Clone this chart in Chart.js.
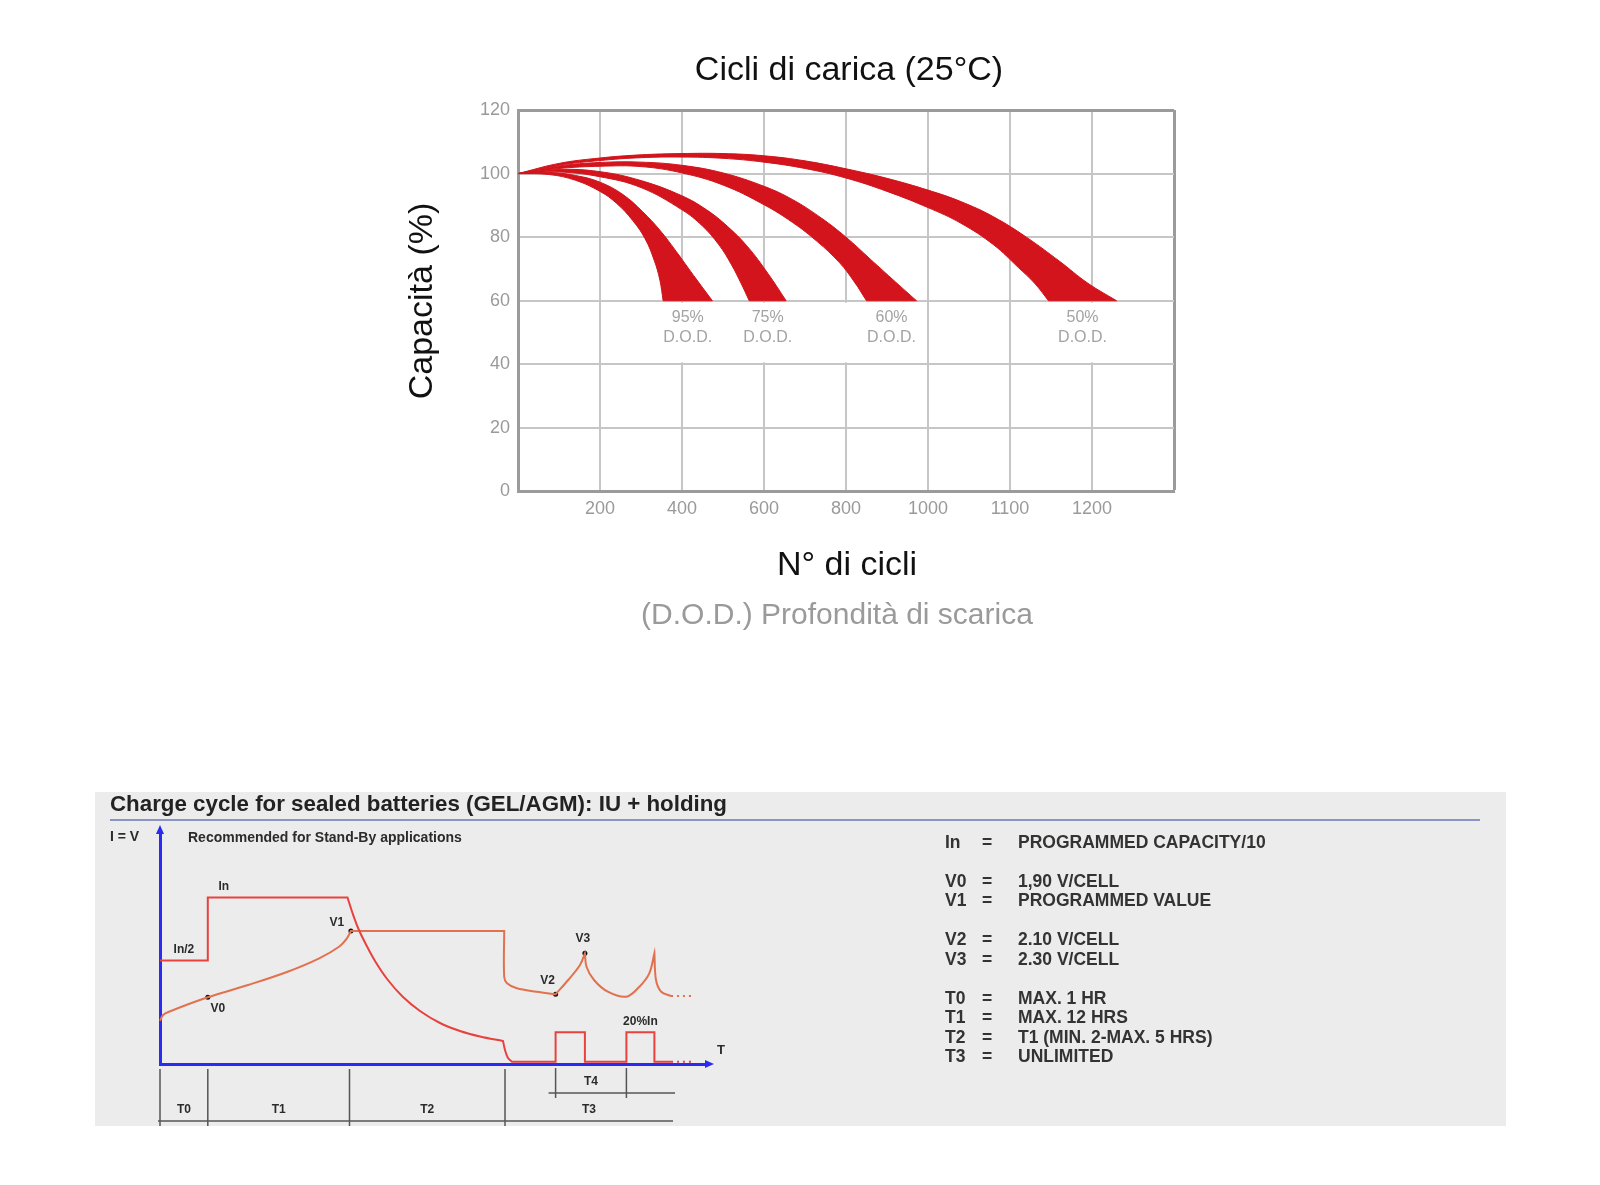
<!DOCTYPE html>
<html>
<head>
<meta charset="utf-8">
<script src="https://cdn.jsdelivr.net/npm/chart.js@4.4.1/dist/chart.umd.min.js"></script>
<style>
  html, body { margin: 0; padding: 0; background: #fff; }
  body { width: 1600px; height: 1185px; position: relative; overflow: hidden; }
  .box { position: absolute; }
</style>
</head>
<body>
<div class="box" style="left:0;top:0;width:1600px;height:660px"><canvas id="cycles"></canvas></div>
<div class="box" style="left:95px;top:792px;width:1411px;height:334px"><canvas id="charge"></canvas></div>
<script>
// ---------- top chart: cycles vs capacity ----------
const chartTitle = 'Cicli di carica (25°C)';
const yTitle = 'Capacità (%)';
const xTitle = 'N° di cicli';
const xSubtitle = '(D.O.D.) Profondità di scarica';
const xTickLabels = ['200', '400', '600', '800', '1000', '1100', '1200'];
const dodLabels = ['95%', '75%', '60%', '50%'];

// band edges, x in tick steps (0 = left edge of plot), y in %
const dod95Upper = [[0, 100], [0.35, 100.4], [0.7, 99.4], [1.0, 97.3], [1.28, 93.4], [1.52, 88], [1.73, 82.2], [1.93, 75.5], [2.14, 68], [2.37, 60]];
const dod95Lower = [[0, 100], [0.38, 99.7], [0.7, 97.9], [1.0, 94.4], [1.2, 90.7], [1.4, 85.2], [1.55, 79.5], [1.66, 72.8], [1.73, 66.5], [1.77, 60]];
const dod75Upper = [[0, 100], [0.5, 101.3], [1.0, 100.6], [1.5, 97.8], [2.0, 93], [2.3, 88.6], [2.55, 83.5], [2.8, 77], [3.05, 68.5], [3.27, 60]];
const dod75Lower = [[0, 100], [0.5, 100.5], [1.0, 99], [1.5, 95.6], [2.0, 88.6], [2.25, 83.5], [2.45, 77.6], [2.6, 71.5], [2.72, 65.5], [2.82, 60]];
const dod60Upper = [[0, 100], [0.5, 102.4], [1.0, 103.5], [1.5, 103.6], [2.0, 102.6], [2.5, 100.2], [3.0, 96], [3.35, 91.8], [3.7, 86], [4.0, 80], [4.3, 73], [4.6, 66], [4.86, 60]];
const dod60Lower = [[0, 100], [0.5, 101.6], [1.0, 102.3], [1.5, 102.2], [2.0, 100.2], [2.5, 96.4], [3.0, 90.2], [3.35, 84.6], [3.65, 78.6], [3.92, 72], [4.1, 66], [4.25, 60]];
const dod50Upper = [[0, 100], [0.5, 103.2], [1.0, 104.9], [1.5, 105.9], [2.0, 106.3], [2.5, 106.3], [3.0, 105.6], [3.5, 104], [4.0, 101.5], [4.5, 98.5], [5.0, 94.8], [5.4, 91.2], [5.8, 86.4], [6.2, 80], [6.6, 72.5], [6.95, 65.5], [7.3, 60]];
const dod50Lower = [[0, 100], [0.5, 102.6], [1.0, 104.1], [1.5, 105], [2.0, 105.2], [2.5, 104.8], [3.0, 103.6], [3.5, 101.6], [4.0, 98.6], [4.5, 94.4], [5.0, 89.3], [5.4, 84.4], [5.8, 77.6], [6.1, 70.5], [6.3, 65.5], [6.47, 60]];

const bands = [
  { upper: dod95Upper, lower: dod95Lower },
  { upper: dod75Upper, lower: dod75Lower },
  { upper: dod60Upper, lower: dod60Lower },
  { upper: dod50Upper, lower: dod50Lower }
];

const RED = '#d3141c';
const GRID = '#c6c6c6';
const EDGE = '#9b9b9b';
const TICK = '#9a9a9a';
const SANS = '"Liberation Sans", Arial, sans-serif';

// closed outline: upper edge out, lower edge back; bottom corners doubled so they stay sharp
function bandPolygon(upper, lower) {
  const pts = upper.map(([x, y]) => ({ x, y }));
  pts.push({ ...pts[pts.length - 1] });
  const back = lower.slice().reverse().map(([x, y]) => ({ x, y }));
  pts.push({ ...back[0] });
  return pts.concat(back);
}

const dodNotes = {
  id: 'dodNotes',
  afterDatasetsDraw(chart) {
    const { ctx, scales: { x, y } } = chart;
    const y60 = y.getPixelForValue(60), y40 = y.getPixelForValue(40);
    ctx.save();
    ctx.font = '16px ' + SANS;
    const notes = bands.map((b, i) => {
      const cx = x.getPixelForValue((b.upper[b.upper.length - 1][0] + b.lower[b.lower.length - 1][0]) / 2);
      const w = Math.max(ctx.measureText(dodLabels[i]).width, ctx.measureText('D.O.D.').width);
      return { cx, l: cx - w / 2 - 8, r: cx + w / 2 + 8, text: dodLabels[i] };
    });
    // labels close together share one white patch over the grid
    const patches = [];
    notes.forEach(n => {
      const last = patches[patches.length - 1];
      if (last && n.l - last.r < 100) last.r = n.r;
      else patches.push({ l: n.l, r: n.r });
    });
    ctx.fillStyle = '#fff';
    patches.forEach(p => ctx.fillRect(p.l, y60 + 2, p.r - p.l, y40 - y60 - 4));
    ctx.fillStyle = '#a3a3a3';
    ctx.textAlign = 'center';
    ctx.textBaseline = 'middle';
    notes.forEach(n => {
      ctx.fillText(n.text, n.cx, y60 + 17);
      ctx.fillText('D.O.D.', n.cx, y60 + 37);
    });
    ctx.restore();
  }
};

const cycleTitles = {
  id: 'cycleTitles',
  afterDraw(chart) {
    const ctx = chart.ctx;
    ctx.save();
    ctx.textAlign = 'center';
    ctx.textBaseline = 'middle';
    ctx.fillStyle = '#111';
    ctx.font = '34px ' + SANS;
    ctx.fillText(chartTitle, 849, 71);
    ctx.fillText(xTitle, 847, 566);
    ctx.fillStyle = '#9a9a9a';
    ctx.font = '30px ' + SANS;
    ctx.fillText(xSubtitle, 837, 616);
    ctx.translate(423, 301);
    ctx.rotate(-Math.PI / 2);
    ctx.fillStyle = '#111';
    ctx.font = '34px ' + SANS;
    ctx.fillText(yTitle, 0, 0);
    ctx.restore();
  }
};

new Chart(document.getElementById('cycles'), {
  type: 'line',
  data: {
    datasets: bands.map((b, i) => ({
      label: dodLabels[i] + ' D.O.D.',
      data: bandPolygon(b.upper, b.lower),
      borderColor: RED,
      borderWidth: 1,
      backgroundColor: RED,
      fill: 'shape',
      tension: 0.4,
      pointRadius: 0
    }))
  },
  options: {
    responsive: true,
    maintainAspectRatio: false,
    animation: false,
    events: [],
    layout: { padding: { left: 0, top: 110, right: 426, bottom: 0 } },
    plugins: { legend: { display: false }, tooltip: { enabled: false } },
    scales: {
      x: {
        type: 'linear', min: 0, max: 8,
        afterFit: s => { s.height = 168.5; },
        ticks: {
          stepSize: 1, autoSkip: false, maxRotation: 0, padding: 7, color: TICK,
          font: { family: SANS, size: 18 },
          callback: v => xTickLabels[v - 1] || ''
        },
        grid: {
          drawTicks: false,
          color: c => (c.tick && c.tick.value === 8 ? EDGE : GRID),
          lineWidth: c => (c.tick && c.tick.value === 8 ? 3 : 2)
        },
        border: { color: EDGE, width: 3 }
      },
      y: {
        min: 0, max: 120,
        afterFit: s => { s.width = 518; },
        ticks: { stepSize: 20, padding: 8, color: TICK, font: { family: SANS, size: 18 } },
        grid: {
          drawTicks: false,
          color: c => (c.tick && c.tick.value === 120 ? EDGE : GRID),
          lineWidth: c => (c.tick && c.tick.value === 120 ? 3 : 2)
        },
        border: { color: EDGE, width: 3 }
      }
    }
  },
  plugins: [dodNotes, cycleTitles]
});

// ---------- bottom panel: charge cycle diagram ----------
const panelTitle = 'Charge cycle for sealed batteries (GEL/AGM): IU + holding';
const panelNote = 'Recommended for Stand-By applications';
const legendKeys = ['In', 'V0', 'V1', 'V2', 'V3', 'T0', 'T1', 'T2', 'T3'];
const legendValues = ['PROGRAMMED CAPACITY/10', '1,90 V/CELL', 'PROGRAMMED VALUE', '2.10 V/CELL', '2.30 V/CELL',
  'MAX. 1 HR', 'MAX. 12 HRS', 'T1 (MIN. 2-MAX. 5 HRS)', 'UNLIMITED'];
const legendGroups = [0, 1, 1, 2, 2, 3, 3, 3, 3];

// [time, level, sharp corner, mark]
const current = [
  [0, 20.7, 1], [9.56, 20.7, 1], [9.56, 33.3, 1], [37.5, 33.3, 1],
  [38.5, 30.2], [39.7, 27.0], [41.2, 23.9], [43.0, 20.6], [45.5, 16.9], [48.5, 13.5],
  [52.0, 10.6], [56.0, 8.2], [60.0, 6.6], [64.0, 5.5], [68.6, 4.6, 1],
  [69.0, 2.8], [69.6, 1.2], [70.4, 0.46, 1],
  [79.12, 0.46, 1], [79.12, 6.34, 1], [84.98, 6.34, 1], [84.98, 0.46, 1],
  [93.28, 0.46, 1], [93.28, 6.34, 1], [98.88, 6.34, 1], [98.88, 0.46, 1], [102.2, 0.46, 1]
];
const currentTail = [[102.2, 0.46], [106.2, 0.46]];
const voltage = [
  [0, 8.66, 1], [0.62, 9.8], [1.8, 10.46], [9.56, 13.34, 0, 'V0'], [17.62, 15.8], [25.52, 18.46],
  [31.84, 21.14], [35.8, 23.46], [37.38, 25.14], [38.18, 26.6, 1, 'V1'], [68.84, 26.6, 1],
  [68.84, 17.46], [69.4, 16.14], [71.38, 15.14], [75.32, 14.46], [79.12, 13.94, 1, 'V2'],
  [81.64, 16.8], [84.0, 19.8], [84.98, 22.14, 1, 'V3'], [85.3, 19.46], [86.8, 16.8], [89.56, 14.46],
  [93.28, 13.46], [95.88, 15.46], [97.86, 18.14], [98.88, 22.14, 1], [99.2, 16.8], [100.24, 14.46],
  [102.2, 13.6]
];
const voltageTail = [[102.2, 13.6], [106.2, 13.6]];
const phaseBounds = [0, 9.56, 37.9, 69, 102.6];
const phaseLabels = ['T0', 'T1', 'T2', 'T3'];
const holdBounds = [79.12, 93.28];

const BLUE = '#2a2af2';
const CUR = '#e8423f';
const VOLT = '#e2714f';
const INK = '#2b2b2b';
const bold = s => 'bold ' + s + 'px "Liberation Sans", Arial, sans-serif';

const toPts = arr => arr.flatMap(([x, y, c]) => (c ? [{ x, y }, { x, y }] : [{ x, y }]));
const marks = voltage.filter(p => p[3]).map(([x, y, , m]) => ({ x, y, m }));
const markOffsets = { V0: [10, 11], V1: [-14, -8], V2: [-8, -14], V3: [-2, -15] };

const chargeDecor = {
  id: 'chargeDecor',
  beforeDraw(chart) {
    const { ctx, width, height } = chart;
    ctx.save();
    ctx.fillStyle = '#ececec';
    ctx.fillRect(0, 0, width, height);
    ctx.restore();
  },
  afterDraw(chart) {
    const { ctx, scales: { x, y } } = chart;
    const x0 = x.getPixelForValue(0), y0 = y.getPixelForValue(0);
    ctx.save();
    ctx.fillStyle = '#222';
    ctx.textBaseline = 'middle';
    ctx.textAlign = 'left';
    ctx.font = bold(22.5);
    ctx.fillText(panelTitle, 15, 13, 617);
    ctx.strokeStyle = '#8c94c6';
    ctx.lineWidth = 2;
    ctx.beginPath(); ctx.moveTo(15, 28); ctx.lineTo(1385, 28); ctx.stroke();

    ctx.fillStyle = INK;
    ctx.font = bold(14);
    ctx.fillText('I = V', 15, 45);
    ctx.fillText(panelNote, 93, 46, 293);

    // arrow heads on the axes
    ctx.fillStyle = BLUE;
    const yTop = y.getPixelForValue(46), xEnd = x.getPixelForValue(109);
    ctx.beginPath(); ctx.moveTo(x0, yTop - 9); ctx.lineTo(x0 - 4, yTop); ctx.lineTo(x0 + 4, yTop); ctx.fill();
    ctx.beginPath(); ctx.moveTo(xEnd + 9, y0); ctx.lineTo(xEnd, y0 - 4); ctx.lineTo(xEnd, y0 + 4); ctx.fill();
    ctx.fillStyle = INK;
    ctx.font = bold(13);
    ctx.fillText('T', xEnd + 12, y0 - 14);

    // curve labels
    ctx.textAlign = 'center';
    ctx.font = bold(12);
    marks.forEach(p => {
      const [dx, dy] = markOffsets[p.m];
      ctx.fillText(p.m, x.getPixelForValue(p.x) + dx, y.getPixelForValue(p.y) + dy);
    });
    ctx.fillText('In', x.getPixelForValue(current[2][0]) + 16, y.getPixelForValue(current[2][1]) - 11);
    ctx.fillText('In/2', (x.getPixelForValue(current[0][0]) + x.getPixelForValue(current[1][0])) / 2, y.getPixelForValue(current[0][1]) - 11);
    ctx.fillText('20%In', (x.getPixelForValue(current[23][0]) + x.getPixelForValue(current[24][0])) / 2, y.getPixelForValue(current[23][1]) - 11);

    // phase timeline
    ctx.strokeStyle = '#555';
    ctx.lineWidth = 1.5;
    const bottom = chart.height;
    ctx.beginPath();
    phaseBounds.slice(0, 4).forEach(v => { const px = x.getPixelForValue(v); ctx.moveTo(px, y0 + 5); ctx.lineTo(px, bottom); });
    ctx.moveTo(x0 - 2, y0 + 57); ctx.lineTo(x.getPixelForValue(phaseBounds[4]), y0 + 57);
    holdBounds.forEach(v => { const px = x.getPixelForValue(v); ctx.moveTo(px, y0 + 4); ctx.lineTo(px, y0 + 34); });
    ctx.moveTo(x.getPixelForValue(holdBounds[0]) - 7, y0 + 29); ctx.lineTo(x.getPixelForValue(phaseBounds[4]) + 2, y0 + 29);
    ctx.stroke();
    ctx.font = bold(12);
    phaseLabels.forEach((t, i) => {
      ctx.fillText(t, (x.getPixelForValue(phaseBounds[i]) + x.getPixelForValue(phaseBounds[i + 1])) / 2, y0 + 46);
    });
    ctx.fillText('T4', (x.getPixelForValue(holdBounds[0]) + x.getPixelForValue(holdBounds[1])) / 2, y0 + 18);

    // legend on the right
    ctx.font = bold(17.5);
    ctx.fillStyle = '#333';
    legendKeys.forEach((k, i) => {
      const ly = 50.7 + (i + legendGroups[i]) * 19.5;
      ctx.textAlign = 'left';
      ctx.fillText(k, 850, ly);
      ctx.textAlign = 'center';
      ctx.fillText('=', 892, ly);
      ctx.textAlign = 'left';
      ctx.fillText(legendValues[i], 923, ly);
    });
    ctx.restore();
  }
};

const lineSet = (label, data, color, dash) => ({
  label, data, borderColor: color, borderWidth: 2, borderDash: dash || [],
  tension: 0.35, pointRadius: 0, fill: false, clip: false
});

new Chart(document.getElementById('charge'), {
  type: 'line',
  data: {
    datasets: [
      lineSet('I', toPts(current), CUR),
      lineSet('I hold', toPts(currentTail), CUR, [2, 4]),
      lineSet('V', toPts(voltage), VOLT),
      lineSet('V hold', toPts(voltageTail), VOLT, [2, 4]),
      { label: 'marks', data: marks, showLine: false, pointRadius: 2.5, pointBackgroundColor: '#111', pointBorderWidth: 0, clip: false }
    ]
  },
  options: {
    responsive: true,
    maintainAspectRatio: false,
    animation: false,
    events: [],
    layout: { padding: { left: 65, top: 42, right: 801, bottom: 62 } },
    plugins: { legend: { display: false }, tooltip: { enabled: false } },
    scales: {
      x: {
        type: 'linear', min: 0, max: 109,
        afterFit: s => { s.height = 0; },
        ticks: { display: false },
        grid: { display: false, drawTicks: false },
        border: { color: BLUE, width: 3 }
      },
      y: {
        min: 0, max: 46,
        afterFit: s => { s.width = 0; },
        ticks: { display: false },
        grid: { display: false, drawTicks: false },
        border: { color: BLUE, width: 3 }
      }
    }
  },
  plugins: [chargeDecor]
});
</script>
</body>
</html>
